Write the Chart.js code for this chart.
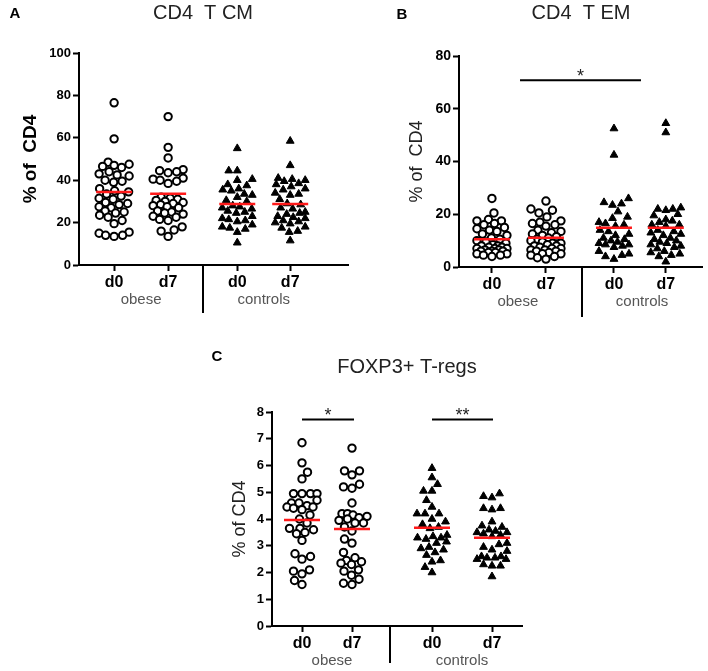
<!DOCTYPE html>
<html>
<head>
<meta charset="utf-8">
<script src="https://cdn.jsdelivr.net/npm/chart.js@4.4.1/dist/chart.umd.min.js"></script>
<style>
  body { margin: 0; background: #fff; }
  #lienzo { position: relative; width: 708px; height: 671px; }
  canvas { position: absolute; }
</style>
</head>
<body>
<div id="lienzo">
  <canvas id="graficoA" width="354" height="330" style="left:0;top:0"></canvas>
  <canvas id="graficoB" width="354" height="330" style="left:354px;top:0"></canvas>
  <canvas id="graficoC" width="400" height="341" style="left:180px;top:330px"></canvas>
</div>
<script>
// categorias del eje x
const dias = ["d0", "d7", "d0", "d7"];
const grupos = ["obese", "controls"];

// A: CD4 T CM, % of CD4
const tcmObeseD0 = [76.5, 59.5, 48.5, 47.5, 47, 46.5, 46, 44, 43, 42.5, 42, 40, 39.5, 39, 36, 35, 34.5, 33.5, 32.5, 31.5, 31, 29.5, 29, 28.5, 27.5, 27, 25.5, 25, 24.5, 23.5, 22.5, 21, 19.5, 15.5, 15, 14, 14, 13.5];
const tcmObeseD7 = [70, 55.5, 50.5, 45, 44.5, 44, 43.5, 41, 40.5, 40, 39.5, 38.5, 32, 31.5, 31, 30.5, 30, 29.5, 29, 28.5, 28, 27.5, 27, 25.5, 25, 24.5, 24, 23, 22.5, 21.5, 21, 18, 16.5, 16, 13.5];
const tcmCtrlD0 = [55, 44.5, 44.5, 40.5, 40, 38, 37.5, 36, 35.5, 35, 33.5, 33, 32, 30.5, 30, 28, 27.5, 27, 26.5, 25.5, 25, 24.5, 23, 22, 21.5, 21, 20.5, 19, 18, 17.5, 17, 15.5, 10.5];
const tcmCtrlD7 = [58.5, 47, 41, 40.5, 40, 39.5, 38.5, 38, 37, 36, 35.5, 34, 33.5, 33, 31, 29, 28.5, 27, 26.5, 25, 24.5, 24, 23, 22.5, 22, 21, 20.5, 20, 19.5, 18, 17.5, 16, 15.5, 11.5];
const tcmMedias = [34.4, 33.6, 28.8, 28.8];
const tcmTicks = [0, 20, 40, 60, 80, 100];

// B: CD4 T EM
const temObeseD0 = [26, 20.5, 18, 17.5, 17.5, 16.5, 16, 15, 14.5, 14, 13.5, 12.5, 12, 11, 10.5, 10, 9.5, 9, 8.5, 8, 8, 7.5, 7.5, 7, 7, 7, 6.5, 6.5, 6, 6, 6, 5.5, 5.5, 5, 5, 4.5, 4.5, 4];
const temObeseD7 = [25, 22, 21.5, 20.5, 19, 17.5, 17, 16.5, 16, 15.5, 14, 13.5, 13, 12.5, 12, 11.5, 11, 10.5, 10, 9.5, 9, 9, 8.5, 8, 8, 7.5, 7, 7, 6.5, 6.5, 6, 6, 5.5, 5, 5, 4.5, 4, 3.5, 3];
const temCtrlD0 = [52.5, 42.5, 26, 24.5, 24, 23.5, 21, 19, 18.5, 17, 16.5, 16, 15.5, 14, 13.5, 12.5, 12, 11, 10.5, 10, 9.5, 9, 8.5, 8.5, 8, 7.5, 6, 5, 4.5, 4, 3];
const temCtrlD7 = [54.5, 51, 22.5, 22, 22, 21.5, 20, 19.5, 18, 17.5, 17, 16, 16, 15.5, 14, 13.5, 13, 12.5, 12, 11, 10.5, 10, 9.5, 9, 8.5, 8, 7.5, 7, 6, 5.5, 5, 4.5, 4, 2];
const temMedias = [10.5, 11.1, 14.9, 14.9];
const temTicks = [0, 20, 40, 60, 80];

// C: FOXP3+ T-regs
const tregObeseD0 = [6.85, 6.1, 5.75, 5.5, 4.95, 4.95, 4.95, 4.95, 4.7, 4.6, 4.6, 4.5, 4.45, 4.45, 4.4, 4.35, 4.15, 4.0, 3.85, 3.65, 3.65, 3.6, 3.5, 3.45, 3.2, 2.7, 2.6, 2.5, 2.1, 2.05, 1.95, 1.7, 1.55];
const tregObeseD7 = [6.65, 5.8, 5.8, 5.65, 5.3, 5.2, 5.15, 4.6, 4.2, 4.2, 4.15, 4.1, 4.05, 4.0, 3.95, 3.85, 3.85, 3.7, 3.55, 3.25, 3.1, 2.75, 2.55, 2.45, 2.4, 2.35, 2.3, 2.1, 2.05, 1.9, 1.75, 1.6, 1.55];
const tregCtrlD0 = [5.9, 5.55, 5.3, 5.05, 5.05, 4.7, 4.45, 4.2, 4.2, 4.2, 4.0, 3.9, 3.8, 3.7, 3.65, 3.4, 3.35, 3.3, 3.3, 3.25, 3.15, 3.1, 2.95, 2.9, 2.85, 2.75, 2.65, 2.45, 2.4, 2.2, 2.0];
const tregCtrlD7 = [4.95, 4.85, 4.8, 4.4, 4.4, 4.35, 3.9, 3.75, 3.7, 3.6, 3.55, 3.5, 3.5, 3.45, 3.4, 3.35, 3.1, 3.05, 2.95, 2.85, 2.8, 2.6, 2.6, 2.55, 2.55, 2.5, 2.5, 2.3, 2.25, 2.25, 1.85];
const tregMedias = [3.96, 3.63, 3.67, 3.3];
const tregTicks = [0, 1, 2, 3, 4, 5, 6, 7, 8];

const FUENTE = '"Liberation Sans", Arial, sans-serif';

// config de cada panel (posiciones en px del canvas)
const paneles = [
  {
    id: "graficoA", letra: "A", letraX: 15, letraY: 14, titulo: "CD4  T CM", tituloX: 203, tituloY: 13,
    ancho: 354, alto: 330, area: { left: 79, top: 53, right: 348, bottom: 265 }, padIzq: 19,
    xPos: [1, 2, 3.28, 4.26], xMin: 0.35, xMax: 5.33, posGrupo: [1.5, 3.77], divisor: 2.65, largoDivisor: 48,
    yTicks: tcmTicks, tickSize: 13, yTitulo: "% of  CD4", yTituloFont: { size: 19, weight: "bold" }, yTituloColor: "#000",
    series: [tcmObeseD0, tcmObeseD7, tcmCtrlD0, tcmCtrlD7], medias: tcmMedias, mediaAncho: 0.333,
    sig: [],
  },
  {
    id: "graficoB", letra: "B", letraX: 48, letraY: 15, titulo: "CD4  T EM", tituloX: 227, tituloY: 13,
    ancho: 354, alto: 330, area: { left: 105, top: 56, right: 348, bottom: 267 }, padIzq: 52,
    xPos: [1, 2, 3.26, 4.22], xMin: 0.39, xMax: 4.89, posGrupo: [1.48, 3.78], divisor: 2.67, largoDivisor: 50,
    yTicks: temTicks, tickSize: 14, yTitulo: "% of  CD4", yTituloFont: { size: 18, weight: "normal" }, yTituloColor: "#222",
    series: [temObeseD0, temObeseD7, temCtrlD0, temCtrlD7], medias: temMedias, mediaAncho: 0.333,
    sig: [{ desde: 1.52, hasta: 3.76, y: 70.8, texto: "*" }],
  },
  {
    id: "graficoC", letra: "C", letraX: 37, letraY: 27, titulo: "FOXP3+ T-regs", tituloX: 227, tituloY: 37,
    ancho: 400, alto: 341, area: { left: 92, top: 82, right: 342, bottom: 296 }, padIzq: 49,
    xPos: [1, 2, 3.6, 4.8], xMin: 0.4, xMax: 5.4, posGrupo: [1.6, 4.2], divisor: 2.76, largoDivisor: 37,
    yTicks: tregTicks, tickSize: 13, yTitulo: "% of CD4", yTituloFont: { size: 18, weight: "normal" }, yTituloColor: "#222",
    series: [tregObeseD0, tregObeseD7, tregCtrlD0, tregCtrlD7], medias: tregMedias, mediaAncho: 0.36,
    sig: [{ desde: 1, hasta: 2.04, y: 7.72, texto: "*" }, { desde: 3.6, hasta: 4.82, y: 7.72, texto: "**" }],
  },
];

// textos extra, linea divisoria y barras de significancia
const hacerExtras = (p) => ({
  id: "extras",
  afterDraw(chart) {
    const { ctx, chartArea: a, scales } = chart;
    const ex = scales.x, ey = scales.y;
    ctx.save();
    ctx.textBaseline = "middle";
    ctx.fillStyle = "#000";
    ctx.font = "bold 15px " + FUENTE;
    ctx.textAlign = "center";
    ctx.fillText(p.letra, p.letraX, p.letraY);
    ctx.fillStyle = "#222";
    ctx.font = "20px " + FUENTE;
    ctx.fillText(p.titulo, p.tituloX, p.tituloY);
    ctx.fillStyle = "#555";
    ctx.font = "15px " + FUENTE;
    grupos.forEach((g, i) => ctx.fillText(g, ex.getPixelForValue(p.posGrupo[i]), a.bottom + 35));

    ctx.strokeStyle = "#000";
    ctx.lineWidth = 2;
    const xd = Math.round(ex.getPixelForValue(p.divisor));
    ctx.beginPath();
    ctx.moveTo(xd, a.bottom);
    ctx.lineTo(xd, a.bottom + p.largoDivisor);
    ctx.stroke();

    p.sig.forEach((s) => {
      const yy = ey.getPixelForValue(s.y);
      const x1 = ex.getPixelForValue(s.desde), x2 = ex.getPixelForValue(s.hasta);
      ctx.beginPath();
      ctx.moveTo(x1, yy);
      ctx.lineTo(x2, yy);
      ctx.stroke();
      ctx.fillStyle = "#222";
      ctx.font = "18px " + FUENTE;
      ctx.textBaseline = "alphabetic";
      ctx.fillText(s.texto, (x1 + x2) / 2, yy + 2);
    });
    ctx.restore();
  },
});

// reparte los puntos a lo ancho tipo "beeswarm" (solo posicion horizontal)
const enjambre = (chart, mitad, sep) => {
  const ex = chart.scales.x, ey = chart.scales.y;
  chart.data.datasets.forEach((ds) => {
    if (!ds.valores) return;
    const cx = ex.getPixelForValue(ds.centro);
    const puestos = [];
    const dx = [];
    const orden = ds.valores.map((v, i) => i).sort((a, b) => ds.valores[a] - ds.valores[b]);
    let lado = 1;
    orden.forEach((i) => {
      const py = ey.getPixelForValue(ds.valores[i]);
      const cands = [0];
      for (let s = 0.5; s <= mitad; s += 0.5) cands.push(s * lado, -s * lado);
      let elegido = null, mejor = 0, mejorDist = -1;
      for (const off of cands) {
        let d = Infinity;
        puestos.forEach((q) => { d = Math.min(d, Math.hypot(off - q.x, py - q.y)); });
        if (d >= sep) { elegido = off; break; }
        if (d > mejorDist) { mejorDist = d; mejor = off; }
      }
      if (elegido === null) elegido = mejor;
      puestos.push({ x: elegido, y: py });
      dx[i] = elegido;
      lado = -lado;
    });
    ds.data = ds.valores.map((v, i) => ({ x: ex.getValueForPixel(cx + dx[i]), y: v }));
  });
  chart.update("none");
};

const lineaEje = { drawOnChartArea: false, drawTicks: true, tickLength: 6, tickWidth: 2, tickColor: "#000" };

paneles.forEach((p) => {
  const datasets = [];
  p.medias.forEach((m, i) => {
    datasets.push({
      type: "line",
      data: [{ x: p.xPos[i] - p.mediaAncho, y: m }, { x: p.xPos[i] + p.mediaAncho, y: m }],
      borderColor: "#ff1a1a",
      borderWidth: 2.5,
      pointRadius: 0,
      showLine: true,
      order: 0,
    });
  });
  p.series.forEach((serie, i) => {
    const obeso = i < 2;
    datasets.push({
      valores: serie,
      centro: p.xPos[i],
      data: serie.map((v) => ({ x: p.xPos[i], y: v })),
      pointStyle: obeso ? "circle" : "triangle",
      pointRadius: obeso ? 3.7 : 4.5,
      pointBorderWidth: obeso ? 2 : 1,
      pointBackgroundColor: obeso ? "#fff" : "#000",
      pointBorderColor: "#000",
      order: 1,
    });
  });

  const chart = new Chart(document.getElementById(p.id), {
    type: "scatter",
    data: { datasets },
    options: {
      responsive: false,
      animation: false,
      devicePixelRatio: 1,
      events: [],
      layout: { padding: { left: p.padIzq, top: p.area.top, right: p.ancho - p.area.right, bottom: 0 } },
      plugins: { legend: { display: false }, tooltip: { enabled: false }, title: { display: false } },
      scales: {
        x: {
          type: "linear",
          min: p.xMin,
          max: p.xMax,
          afterBuildTicks: (s) => { s.ticks = p.xPos.map((v) => ({ value: v })); },
          afterFit: (s) => { s.height = p.alto - p.area.bottom; },
          ticks: {
            autoSkip: false,
            maxRotation: 0,
            padding: 2,
            color: "#000",
            font: { family: FUENTE, size: 16, weight: "bold" },
            callback: (v, i) => dias[i],
          },
          grid: lineaEje,
          border: { color: "#000", width: 2 },
        },
        y: {
          min: p.yTicks[0],
          max: p.yTicks[p.yTicks.length - 1],
          afterBuildTicks: (s) => { s.ticks = p.yTicks.map((v) => ({ value: v })); },
          afterFit: (s) => { s.width = p.area.left - p.padIzq; },
          ticks: { padding: 2, color: "#000", font: { family: FUENTE, size: p.tickSize, weight: "bold" } },
          title: {
            display: true,
            text: p.yTitulo,
            color: p.yTituloColor,
            font: { family: FUENTE, size: p.yTituloFont.size, weight: p.yTituloFont.weight },
            padding: { top: 0, bottom: 0 },
          },
          grid: lineaEje,
          border: { color: "#000", width: 2 },
        },
      },
    },
    plugins: [hacerExtras(p)],
  });
  enjambre(chart, 15, 8.5);
});
</script>
</body>
</html>
